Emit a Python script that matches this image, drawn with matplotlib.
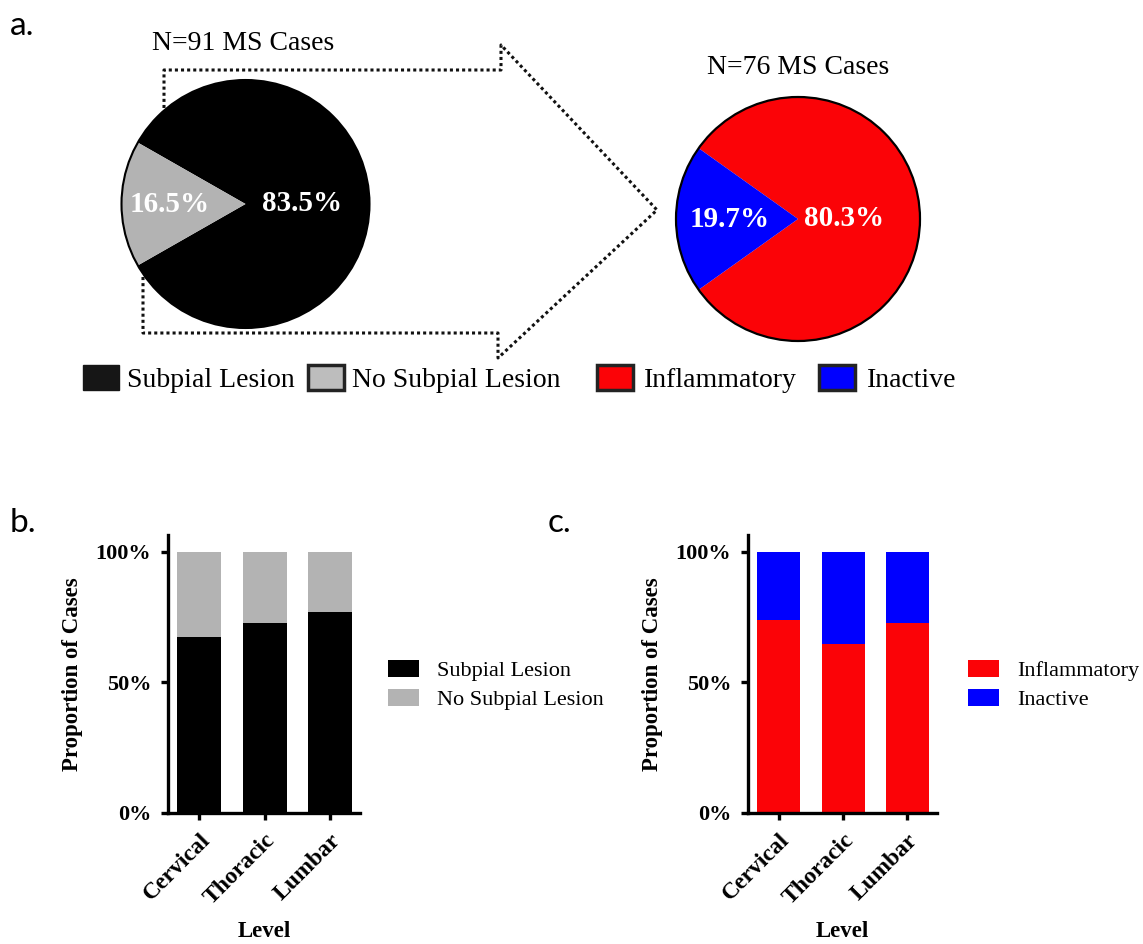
import numpy as np
import matplotlib
matplotlib.use('Agg')
import matplotlib.pyplot as plt
from matplotlib.patches import Patch, Circle

plt.rcParams['font.family'] = ['Liberation Serif', 'DejaVu Serif']

# pie data (panel a)
lesion_labels = ['Subpial Lesion', 'No Subpial Lesion']
lesion_pct = [83.5, 16.5]
lesion_n = 91
activity_labels = ['Inflammatory', 'Inactive']
activity_pct = [80.3, 19.7]
activity_n = 76

# stacked bars (panels b, c)
levels = ['Cervical', 'Thoracic', 'Lumbar']
subpial = [67.4, 72.7, 76.9]          # % with subpial lesion
inflammatory = [74.1, 64.7, 72.6]     # % inflammatory
yticks = [0, 50, 100]
ytick_labels = ['0%', '50%', '100%']

W, H = 1143, 944
fig = plt.figure(figsize=(W / 100, H / 100), dpi=100)


def fx(px):
    return px / W


def fy(py):
    return 1 - py / H


# dotted "arrow" outline behind the first pie (pixel layout)
arrow_path = [(164, 108), (164, 70), (501, 70), (501, 45), (657, 210),
              (498, 358), (498, 333), (143, 333), (143, 277)]
ax0 = fig.add_axes([0, 0, 1, 1], zorder=0)
ax0.set_xlim(0, W)
ax0.set_ylim(H, 0)
ax0.axis('off')
ax0.plot([p[0] for p in arrow_path], [p[1] for p in arrow_path],
         color='#111111', lw=2.2, linestyle=(0, (1, 1)),
         dash_capstyle='butt', solid_joinstyle='miter')


def draw_pie(cx, cy, r, vals, colors, dists, edge_lw):
    half = 1.25 * r
    ax = fig.add_axes([fx(cx - half), fy(cy + half), 2 * half / W, 2 * half / H],
                      zorder=2)
    start = 180 + vals[1] * 3.6 / 2
    wedges, _, autotexts = ax.pie(vals, colors=colors, startangle=start,
                                  counterclock=True, autopct='%.1f%%',
                                  wedgeprops=dict(linewidth=0),
                                  textprops=dict(color='white', fontsize=21,
                                                 fontweight='bold'))
    for w, t, d in zip(wedges, autotexts, dists):
        ang = np.deg2rad((w.theta1 + w.theta2) / 2)
        t.set_position((d * np.cos(ang), d * np.sin(ang)))
    ax.add_patch(Circle((0, 0), 1, fill=False, ec='black', lw=edge_lw))
    ax.set_xlim(-1.25, 1.25)
    ax.set_ylim(-1.25, 1.25)
    ax.set_aspect('equal')
    return ax


draw_pie(245.5, 204, 124, lesion_pct, ['#000000', '#b3b3b3'], [0.455, 0.61], 1.5)
draw_pie(798, 219, 122, activity_pct, ['#fb0307', '#0000ff'], [0.377, 0.557], 1.6)

fig.text(fx(243), fy(44), 'N=%d MS Cases' % lesion_n, fontsize=20,
         ha='center', va='center')
fig.text(fx(798.5), fy(68), 'N=%d MS Cases' % activity_n, fontsize=20,
         ha='center', va='center')

leg_kw = dict(loc='center left', ncol=2, frameon=False, borderpad=0,
              borderaxespad=0, handlelength=1.3, handleheight=1.0,
              handletextpad=0.3, fontsize=20)
h1 = [Patch(facecolor='#161616', edgecolor='#161616', lw=1),
      Patch(facecolor='#bdbdbd', edgecolor='#232323', lw=2.5)]
fig.legend(h1, lesion_labels, bbox_to_anchor=(fx(83), fy(379)),
           columnspacing=0.45, **leg_kw)
h2 = [Patch(facecolor='#fb0307', edgecolor='#232323', lw=2.5),
      Patch(facecolor='#0000ff', edgecolor='#232323', lw=2.5)]
fig.legend(h2, activity_labels, bbox_to_anchor=(fx(597), fy(379)),
           columnspacing=0.8, handletextpad=0.4, **{k: v for k, v in leg_kw.items()
                                                    if k != 'handletextpad'})


def draw_bars(left_px, right_px, bottom_vals, colors, labels, leg_px):
    ax = fig.add_axes([fx(left_px), fy(813), (right_px - left_px) / W, (813 - 535) / H])
    x = np.arange(len(levels))
    top_vals = [100 - v for v in bottom_vals]
    ax.bar(x, bottom_vals, width=0.67, color=colors[0], label=labels[0])
    ax.bar(x, top_vals, bottom=bottom_vals, width=0.67, color=colors[1], label=labels[1])
    ax.set_xlim(-0.48, 2.46)
    ax.set_ylim(0, 106.5)
    for s in ['top', 'right']:
        ax.spines[s].set_visible(False)
    for s in ['left', 'bottom']:
        ax.spines[s].set_linewidth(2.4)
    ax.set_yticks(yticks, ytick_labels, fontweight='bold', fontsize=16)
    ax.set_xticks(x, levels, rotation=45, ha='right', va='top',
                  rotation_mode='anchor', fontweight='bold', fontsize=17)
    ax.tick_params(width=2.4, length=5, direction='out', pad=7)
    ax.set_ylabel('Proportion of Cases', fontweight='bold', fontsize=16.5, labelpad=9)
    ax.set_xlabel('Level', fontweight='bold', fontsize=16.5, labelpad=9)
    ax.legend(loc='center left', bbox_to_anchor=(fx(leg_px), fy(685)),
              bbox_transform=fig.transFigure, frameon=False, borderpad=0,
              borderaxespad=0, fontsize=16, handlelength=1.4, handleheight=0.8,
              handletextpad=0.8, labelspacing=0.35)
    return ax


draw_bars(168, 360, subpial, ['#000000', '#b3b3b3'],
          ['Subpial Lesion', 'No Subpial Lesion'], 388)
draw_bars(748, 937, inflammatory, ['#fb0307', '#0000ff'],
          ['Inflammatory', 'Inactive'], 968)

for lab, px, py in [('a.', 10, 35), ('b.', 10, 532), ('c.', 548, 532)]:
    fig.text(fx(px), fy(py), lab, fontsize=24, family=['Lato', 'DejaVu Sans'],
             va='baseline')

fig.savefig('out.png', dpi=100)
